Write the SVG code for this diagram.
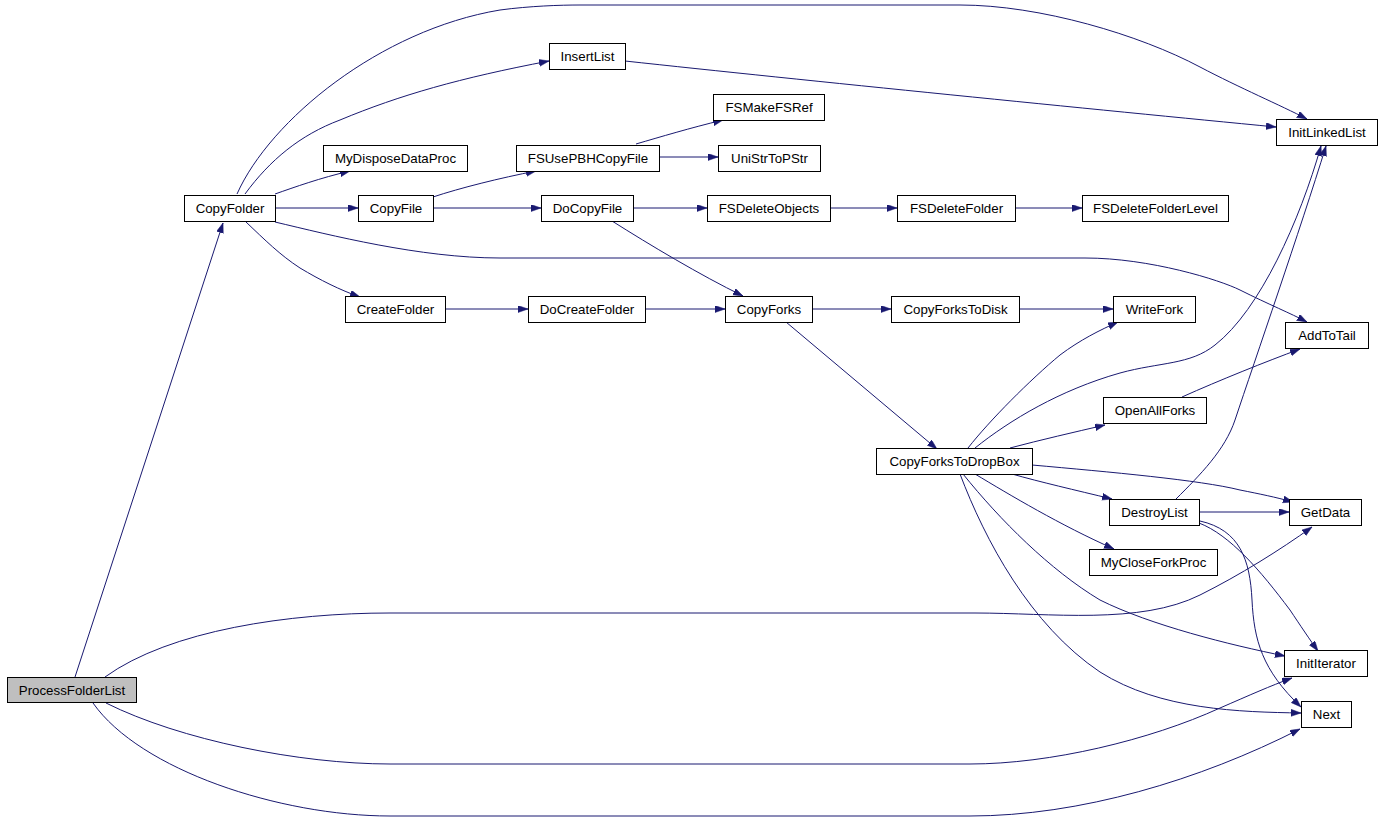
<svg xmlns="http://www.w3.org/2000/svg" width="1381" height="821" viewBox="0 0 1381 821">
<style>
.n rect{fill:#fff;stroke:#000;stroke-width:1}
.n text{font-family:"Liberation Sans",Arial,sans-serif;font-size:13.3px;fill:#000;text-anchor:middle}
.e path{fill:none;stroke:#191970;stroke-width:1}
</style>
<defs>
<marker id="a" markerUnits="userSpaceOnUse" markerWidth="11" markerHeight="8" refX="10" refY="3.5" orient="auto">
<path d="M0,0 L10,3.5 L0,7 z" fill="#191970" stroke="#191970" stroke-width="0.5"/>
</marker>
</defs>
<rect width="1381" height="821" fill="#fff"/>
<g id="edges" class="e">
<path marker-end="url(#a)" d="M75,677 L223,223"/>
<path marker-end="url(#a)" d="M105,677 C170,630 290,613 390,613 L975,613 C1050,613 1140,625 1200,595 C1240,575 1280,550 1312,527"/>
<path marker-end="url(#a)" d="M106,703 C180,740 300,764 390,764 L970,764 C1050,764 1150,740 1220,708 C1250,695 1270,686 1292,678"/>
<path marker-end="url(#a)" d="M93,703 C140,770 280,816 390,816 L970,816 C1080,816 1200,780 1300,729"/>
<path marker-end="url(#a)" d="M245,194 C270,160 300,135 340,120 C400,95 460,78 549,61"/>
<path marker-end="url(#a)" d="M237,194 C270,120 380,30 500,10 C530,6 560,5 580,5 L960,5 C1040,5 1140,35 1200,67 C1240,88 1280,105 1307,119"/>
<path marker-end="url(#a)" d="M625,61 C800,80 1100,110 1276,127"/>
<path marker-end="url(#a)" d="M275,194 C295,187 320,178 350,171"/>
<path marker-end="url(#a)" d="M275,208 L358,208"/>
<path marker-end="url(#a)" d="M275,222 C330,235 420,258 500,258 L1085,258 C1150,258 1220,280 1240,290 C1270,305 1290,313 1307,322"/>
<path marker-end="url(#a)" d="M246,222 C265,240 280,255 300,268 C320,280 340,290 360,297"/>
<path marker-end="url(#a)" d="M433,197 C460,188 500,178 536,171"/>
<path marker-end="url(#a)" d="M433,208 L541,208"/>
<path marker-end="url(#a)" d="M636,144 C660,137 690,128 723,120"/>
<path marker-end="url(#a)" d="M659,157 L718,157"/>
<path marker-end="url(#a)" d="M633,208 L707,208"/>
<path marker-end="url(#a)" d="M830,208 L897,208"/>
<path marker-end="url(#a)" d="M1015,208 L1082,208"/>
<path marker-end="url(#a)" d="M612,221 C650,245 700,275 743,296"/>
<path marker-end="url(#a)" d="M445,309 L528,309"/>
<path marker-end="url(#a)" d="M645,309 L725,309"/>
<path marker-end="url(#a)" d="M812,309 L891,309"/>
<path marker-end="url(#a)" d="M1019,309 L1113,309"/>
<path marker-end="url(#a)" d="M786,322 L937,449"/>
<path marker-end="url(#a)" d="M968,448 C990,420 1030,380 1060,355 C1080,340 1100,330 1118,322"/>
<path marker-end="url(#a)" d="M975,448 C1010,420 1060,390 1120,373 C1160,362 1190,365 1215,345 C1260,310 1300,220 1321,146"/>
<path marker-end="url(#a)" d="M1176,499 C1200,475 1225,450 1235,420 C1255,360 1300,230 1326,146"/>
<path marker-end="url(#a)" d="M1010,448 C1040,440 1075,432 1105,425"/>
<path marker-end="url(#a)" d="M1182,397 C1220,380 1265,362 1300,349"/>
<path marker-end="url(#a)" d="M1032,465 C1110,472 1200,480 1240,490 C1260,494 1275,497 1293,502"/>
<path marker-end="url(#a)" d="M1012,474 C1040,482 1075,490 1112,499"/>
<path marker-end="url(#a)" d="M975,474 C1010,495 1060,525 1114,549"/>
<path marker-end="url(#a)" d="M963,474 C1000,520 1050,570 1100,600 C1150,625 1230,645 1285,656"/>
<path marker-end="url(#a)" d="M960,474 C985,540 1030,625 1100,672 C1160,710 1240,712 1301,713"/>
<path marker-end="url(#a)" d="M1199,512 L1289,512"/>
<path marker-end="url(#a)" d="M1199,523 C1230,535 1260,570 1290,610 C1300,625 1310,640 1318,651"/>
<path marker-end="url(#a)" d="M1200,521 C1240,530 1250,560 1252,600 C1254,640 1262,670 1301,707"/>
</g>
<g id="ProcessFolderList" class="n"><rect x="7.5" y="677.5" width="129" height="25" style="fill:#bfbfbf"/><text x="72" y="694.5">ProcessFolderList</text></g>
<g id="CopyFolder" class="n"><rect x="184.5" y="195.5" width="91" height="26"/><text x="230" y="213">CopyFolder</text></g>
<g id="InsertList" class="n"><rect x="549.5" y="43.5" width="76" height="26"/><text x="587.5" y="61">InsertList</text></g>
<g id="MyDisposeDataProc" class="n"><rect x="323.5" y="145.5" width="144" height="26"/><text x="395.5" y="163">MyDisposeDataProc</text></g>
<g id="CopyFile" class="n"><rect x="358.5" y="195.5" width="75" height="26"/><text x="396" y="213">CopyFile</text></g>
<g id="FSUsePBHCopyFile" class="n"><rect x="516.5" y="145.5" width="143" height="26"/><text x="588" y="163">FSUsePBHCopyFile</text></g>
<g id="DoCopyFile" class="n"><rect x="541.5" y="195.5" width="92" height="26"/><text x="587.5" y="213">DoCopyFile</text></g>
<g id="FSMakeFSRef" class="n"><rect x="713.5" y="94.5" width="111" height="26"/><text x="769" y="112">FSMakeFSRef</text></g>
<g id="UniStrToPStr" class="n"><rect x="718.5" y="145.5" width="102" height="26"/><text x="769.5" y="163">UniStrToPStr</text></g>
<g id="FSDeleteObjects" class="n"><rect x="707.5" y="195.5" width="123" height="26"/><text x="769" y="213">FSDeleteObjects</text></g>
<g id="FSDeleteFolder" class="n"><rect x="897.5" y="195.5" width="118" height="26"/><text x="956.5" y="213">FSDeleteFolder</text></g>
<g id="FSDeleteFolderLevel" class="n"><rect x="1082.5" y="195.5" width="146" height="26"/><text x="1155.5" y="213">FSDeleteFolderLevel</text></g>
<g id="InitLinkedList" class="n"><rect x="1276.5" y="119.5" width="101" height="26"/><text x="1327" y="137">InitLinkedList</text></g>
<g id="CreateFolder" class="n"><rect x="345.5" y="296.5" width="100" height="26"/><text x="395.5" y="314">CreateFolder</text></g>
<g id="DoCreateFolder" class="n"><rect x="528.5" y="296.5" width="117" height="26"/><text x="587" y="314">DoCreateFolder</text></g>
<g id="CopyForks" class="n"><rect x="725.5" y="296.5" width="87" height="26"/><text x="769" y="314">CopyForks</text></g>
<g id="CopyForksToDisk" class="n"><rect x="891.5" y="296.5" width="128" height="26"/><text x="955.5" y="314">CopyForksToDisk</text></g>
<g id="WriteFork" class="n"><rect x="1113.5" y="296.5" width="82" height="26"/><text x="1154.5" y="314">WriteFork</text></g>
<g id="AddToTail" class="n"><rect x="1285.5" y="322.5" width="83" height="26"/><text x="1327" y="340">AddToTail</text></g>
<g id="OpenAllForks" class="n"><rect x="1103.5" y="397.5" width="103" height="26"/><text x="1155" y="415">OpenAllForks</text></g>
<g id="CopyForksToDropBox" class="n"><rect x="876.5" y="448.5" width="156" height="26"/><text x="954.5" y="466">CopyForksToDropBox</text></g>
<g id="DestroyList" class="n"><rect x="1109.5" y="499.5" width="90" height="26"/><text x="1154.5" y="517">DestroyList</text></g>
<g id="GetData" class="n"><rect x="1289.5" y="499.5" width="72" height="26"/><text x="1325.5" y="517">GetData</text></g>
<g id="MyCloseForkProc" class="n"><rect x="1089.5" y="549.5" width="128" height="26"/><text x="1153.5" y="567">MyCloseForkProc</text></g>
<g id="InitIterator" class="n"><rect x="1284.5" y="650.5" width="83" height="26"/><text x="1326" y="668">InitIterator</text></g>
<g id="Next" class="n"><rect x="1301.5" y="701.5" width="50" height="26"/><text x="1326.5" y="719">Next</text></g>
</svg>
